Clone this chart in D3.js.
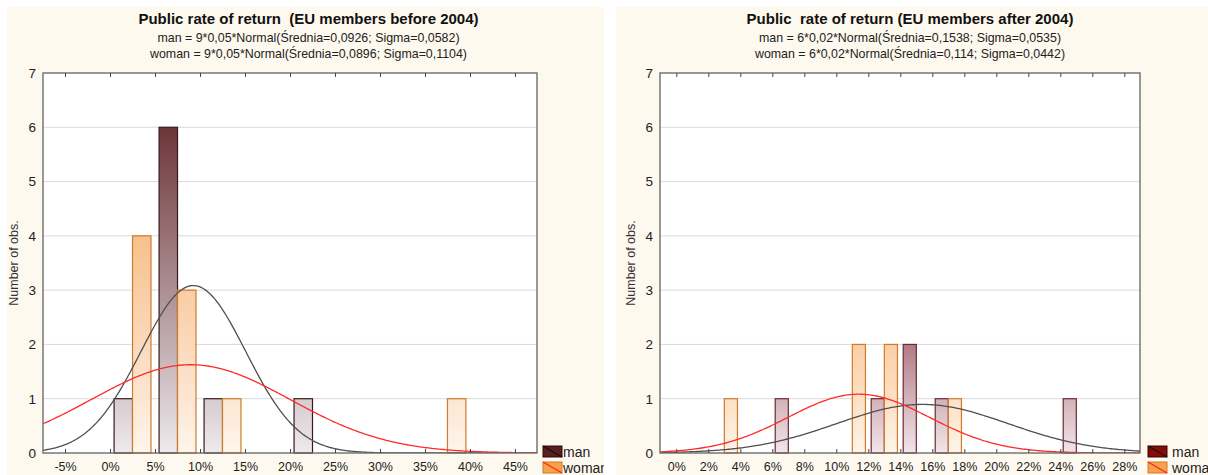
<!DOCTYPE html>
<html><head><meta charset="utf-8">
<script src="https://cdn.jsdelivr.net/npm/d3@7"></script>
<style>
html,body{margin:0;padding:0;background:#fff;}
svg{display:block;font-family:"Liberation Sans",Arial,sans-serif;}
text{white-space:pre;}
</style></head>
<body><svg id="c" width="1208" height="475"></svg>
<script>
// ---------- data ----------
const titleBefore = "Public rate of return  (EU members before 2004)";
const subBefore = ["man = 9*0,05*Normal(Średnia=0,0926; Sigma=0,0582)",
                   "woman = 9*0,05*Normal(Średnia=0,0896; Sigma=0,1104)"];
const binsBefore = [0.025, 0.075, 0.125, 0.225, 0.375];
const manBefore = [1, 6, 1, 1, 0];
const womanBefore = [4, 3, 1, 0, 1];
const fitBefore = {man: [9, 0.05, 0.0926, 0.0582], woman: [9, 0.05, 0.0896, 0.1104]};
const xTicksBefore = [-0.05, 0, 0.05, 0.10, 0.15, 0.20, 0.25, 0.30, 0.35, 0.40, 0.45];

const titleAfter = "Public  rate of return (EU members after 2004)";
const subAfter = ["man = 6*0,02*Normal(Średnia=0,1538; Sigma=0,0535)",
                  "woman = 6*0,02*Normal(Średnia=0,114; Sigma=0,0442)"];
const binsAfter = [0.03, 0.07, 0.11, 0.13, 0.15, 0.17, 0.25];
const manAfter = [0, 1, 0, 1, 2, 1, 1];
const womanAfter = [1, 0, 2, 2, 0, 1, 0];
const fitAfter = {man: [6, 0.02, 0.1538, 0.0535], woman: [6, 0.02, 0.114, 0.0442]};
const xTicksAfter = [0, 0.02, 0.04, 0.06, 0.08, 0.10, 0.12, 0.14, 0.16, 0.18, 0.20, 0.22, 0.24, 0.26, 0.28];

const yTicks = [0, 1, 2, 3, 4, 5, 6, 7];
const seriesNames = ["man", "woman"];

// ---------- drawing ----------
const svg = d3.select("#c");
const defs = svg.append("defs");

function grad(id, stops) {
  const g = defs.append("linearGradient").attr("id", id)
    .attr("gradientUnits", "userSpaceOnUse")
    .attr("x1", 0).attr("x2", 0).attr("y1", 453).attr("y2", 73);
  stops.forEach(s => g.append("stop").attr("offset", s[0]).attr("stop-color", s[1]));
}
grad("manL", [[0, "#efeaec"], [1/7, "#d7cbcf"], [6/7, "#6d3639"], [1, "#5c2226"]]);
grad("manR", [[0, "#f1e6e9"], [1/7, "#d2b2b9"], [2/7, "#b07c86"], [1, "#6a0f1c"]]);
grad("womL", [[0, "#fef5ec"], [1/7, "#fce6d2"], [3/7, "#f9cda5"], [4/7, "#f8c08c"], [1, "#f4a060"]]);
grad("womR", [[0, "#fef4ea"], [1/7, "#fde0c4"], [2/7, "#fbcfa6"], [1, "#f4a060"]]);

function panel(o) {
  const cid = "clip" + o.id;
  defs.append("clipPath").attr("id", cid).append("rect")
    .attr("x", o.px).attr("y", 7).attr("width", o.pw).attr("height", 468);
  const pclip = "plot" + o.id;
  defs.append("clipPath").attr("id", pclip).append("rect")
    .attr("x", o.x0).attr("y", 73).attr("width", o.x1 - o.x0).attr("height", 380);

  const g = svg.append("g").attr("clip-path", `url(#${cid})`);
  g.append("rect").attr("x", o.px).attr("y", 7).attr("width", o.pw).attr("height", 468)
    .attr("fill", "#fef9ee");

  const cx = o.px + o.pw / 2 + o.tdx;
  g.append("text").attr("x", cx).attr("y", 24).attr("text-anchor", "middle")
    .attr("font-size", 15).attr("font-weight", "bold").attr("fill", "#111").text(o.title);
  o.subs.forEach((s, i) => g.append("text").attr("x", cx).attr("y", 42 + i * 16)
    .attr("text-anchor", "middle").attr("font-size", 12.4).attr("fill", "#222").text(s));

  const x = d3.scaleLinear().domain(o.xdom).range([o.x0, o.x1]);
  const y = d3.scaleLinear().domain([0, 7]).range([453, 73]);

  g.append("rect").attr("x", o.x0).attr("y", 73).attr("width", o.x1 - o.x0).attr("height", 380)
    .attr("fill", "#fff");

  // grid
  g.append("g").selectAll("line").data(yTicks.filter(d => d > 0 && d < 7)).join("line")
    .attr("x1", o.x0).attr("x2", o.x1).attr("y1", d => y(d)).attr("y2", d => y(d))
    .attr("stroke", "#dadada").attr("stroke-width", 1);

  // bars
  const bw = o.binW * 0.41;
  const pg = g.append("g");
  pg.selectAll("rect.m").data(o.bins.map((b, i) => ({b, v: o.man[i]})).filter(d => d.v > 0))
    .join("rect").attr("class", "m")
    .attr("x", d => x(d.b - bw)).attr("width", d => x(d.b) - x(d.b - bw))
    .attr("y", d => y(d.v)).attr("height", d => y(0) - y(d.v))
    .attr("fill", `url(#${o.manGrad})`).attr("stroke", o.manStroke).attr("stroke-width", 1.2);
  pg.selectAll("rect.w").data(o.bins.map((b, i) => ({b, v: o.woman[i]})).filter(d => d.v > 0))
    .join("rect").attr("class", "w")
    .attr("x", d => x(d.b)).attr("width", d => x(d.b + bw) - x(d.b))
    .attr("y", d => y(d.v)).attr("height", d => y(0) - y(d.v))
    .attr("fill", `url(#${o.womGrad})`).attr("stroke", "#d07a2a").attr("stroke-width", 1.2);

  // fitted curves (from the parameters shown in the subtitles)
  const xs = d3.range(0, 301).map(i => o.xdom[0] + (o.xdom[1] - o.xdom[0]) * i / 300);
  const curve = p => xs.map(v => [v, p[0] * p[1] * Math.exp(-0.5 * ((v - p[2]) / p[3]) ** 2) / (p[3] * Math.sqrt(2 * Math.PI))]);
  const line = d3.line().x(d => x(d[0])).y(d => y(d[1]));
  const cg = g.append("g").attr("clip-path", `url(#${pclip})`);
  cg.append("path").attr("d", line(curve(o.fit.man))).attr("fill", "none")
    .attr("stroke", "#4f4f4f").attr("stroke-width", 1.3);
  cg.append("path").attr("d", line(curve(o.fit.woman))).attr("fill", "none")
    .attr("stroke", "#ff2a2a").attr("stroke-width", 1.3);

  // frame
  g.append("rect").attr("x", o.x0).attr("y", 73).attr("width", o.x1 - o.x0).attr("height", 380)
    .attr("fill", "none").attr("stroke", "#6e6e6e").attr("stroke-width", 1.4);

  // x axis (ticks inward, bottom and top)
  const xb = g.append("g").attr("transform", "translate(0,453)")
    .call(d3.axisBottom(x).tickValues(o.xticks).tickSize(-4).tickPadding(9)
      .tickFormat(d => Math.round(d * 100) + "%"));
  xb.select(".domain").remove();
  xb.selectAll("line").attr("stroke", "#444");
  xb.selectAll("text").attr("font-size", 12.5).attr("fill", "#222")
    .attr("font-family", "'Liberation Sans',Arial,sans-serif");
  const xt = g.append("g").attr("transform", "translate(0,73)")
    .call(d3.axisTop(x).tickValues(o.xticks).tickSize(-4).tickFormat(""));
  xt.select(".domain").remove();
  xt.selectAll("line").attr("stroke", "#444");

  // y axis
  const ya = g.append("g").attr("transform", `translate(${o.x0},0)`)
    .call(d3.axisLeft(y).tickValues(yTicks).tickSize(0).tickPadding(7).tickFormat(d3.format("d")));
  ya.select(".domain").remove();
  ya.selectAll("text").attr("font-size", 13.5).attr("fill", "#222")
    .attr("font-family", "'Liberation Sans',Arial,sans-serif");

  g.append("text").attr("transform", `translate(${o.x0 - 25},263) rotate(-90)`)
    .attr("text-anchor", "middle").attr("font-size", 12.5).attr("fill", "#333").text("Number of obs.");

  // legend
  const lx = o.x1 + o.ldx;
  const leg = [
    {n: seriesNames[0], fill: o.legMan, diag: "#111", stroke: "#2a0a0a", y: 446},
    {n: seriesNames[1], fill: "#f7a24a", diag: "#ff2020", stroke: "#d07a2a", y: 462}
  ];
  leg.forEach(l => {
    g.append("rect").attr("x", lx).attr("y", l.y).attr("width", 19).attr("height", 11)
      .attr("fill", l.fill).attr("stroke", l.stroke).attr("stroke-width", 1);
    g.append("line").attr("x1", lx).attr("y1", l.y).attr("x2", lx + 19).attr("y2", l.y + 11)
      .attr("stroke", l.diag).attr("stroke-width", 1.2);
    g.append("text").attr("x", lx + 19 + o.lgap).attr("y", l.y + 11).attr("font-size", 14)
      .attr("fill", "#222").text(l.n);
  });
}

panel({id: "L", px: 7, pw: 597, x0: 43, x1: 537, xdom: [-0.0745, 0.4745], tdx: 3, ldx: 6, lgap: 1,
  title: titleBefore, subs: subBefore, bins: binsBefore, binW: 0.05,
  man: manBefore, woman: womanBefore, fit: fitBefore, xticks: xTicksBefore,
  manGrad: "manL", womGrad: "womL", manStroke: "#3a1a1a", legMan: "#5a1e20"});
panel({id: "R", px: 616, pw: 592, x0: 660, x1: 1140, xdom: [-0.0102, 0.2898], tdx: -2, ldx: 8, lgap: 5,
  title: titleAfter, subs: subAfter, bins: binsAfter, binW: 0.02,
  man: manAfter, woman: womanAfter, fit: fitAfter, xticks: xTicksAfter,
  manGrad: "manR", womGrad: "womR", manStroke: "#6b2a36", legMan: "#8a0808"});
</script></body></html>
